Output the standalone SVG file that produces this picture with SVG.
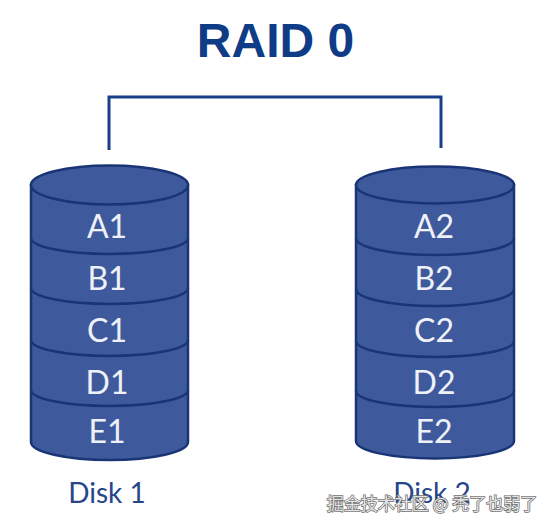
<svg xmlns="http://www.w3.org/2000/svg" width="556" height="528" viewBox="0 0 556 528">
<style>
.body{fill:#3f5a9c;stroke:#1a3576;stroke-width:2.5}
.div{fill:none;stroke:#1a3576;stroke-width:2.5}
.lbl{font-family:Lato,"Liberation Sans",sans-serif;font-size:32px;fill:#eef1f8;text-anchor:middle}
.disk{font-family:Lato,"Liberation Sans",sans-serif;font-size:28px;fill:#27468a;text-anchor:middle}
.title{font-family:"Liberation Sans",Arial,sans-serif;font-weight:bold;font-size:48px;fill:#0f3c86;text-anchor:middle}
.wm{font-family:"Noto Sans CJK SC",sans-serif;font-size:17px;fill:#e4e4e4;stroke:#6e6e6e;stroke-width:1.4;paint-order:stroke;text-anchor:middle}
.conn{fill:none;stroke:#1a3f8a;stroke-width:3}
</style>
<rect width="556" height="528" fill="#ffffff"/>
<text class="title" x="275.5" y="57">RAID 0</text>
<g id="connectors">
<path class="conn" d="M109,150 V97 H441 V148"/>
</g>
<g id="disk1">
<path class="body" d="M31,185 V442 A78.5 18 0 0 0 188,442 V185 Z"/>
<ellipse class="body" cx="109.5" cy="185" rx="78.5" ry="19.5"/>
<path class="div" d="M31,238 A78.5 16 0 0 0 188,238"/>
<path class="div" d="M31,288 A78.5 16 0 0 0 188,288"/>
<path class="div" d="M31,340 A78.5 16 0 0 0 188,340"/>
<path class="div" d="M31,390 A78.5 16 0 0 0 188,390"/>
<text class="lbl" x="107" y="238">A1</text>
<text class="lbl" x="107" y="290">B1</text>
<text class="lbl" x="107" y="342">C1</text>
<text class="lbl" x="107" y="394">D1</text>
<text class="lbl" x="107" y="443">E1</text>
<text class="disk" x="107" y="503">Disk 1</text>
</g>
<g id="disk2">
<path class="body" d="M356,185 V441 A79 17.5 0 0 0 514,441 V185 Z"/>
<ellipse class="body" cx="435" cy="185" rx="79" ry="18.5"/>
<path class="div" d="M356,238 A79 17 0 0 0 514,238"/>
<path class="div" d="M356,289 A79 17 0 0 0 514,289"/>
<path class="div" d="M356,341 A79 16 0 0 0 514,341"/>
<path class="div" d="M356,391 A79 16 0 0 0 514,391"/>
<text class="lbl" x="434" y="238">A2</text>
<text class="lbl" x="434" y="290">B2</text>
<text class="lbl" x="434" y="342">C2</text>
<text class="lbl" x="434" y="394">D2</text>
<text class="lbl" x="434" y="443">E2</text>
<text class="disk" x="432" y="503">Disk 2</text>
</g>
<text class="wm" x="432" y="510">掘金技术社区 @ 秃了也弱了</text>
</svg>
